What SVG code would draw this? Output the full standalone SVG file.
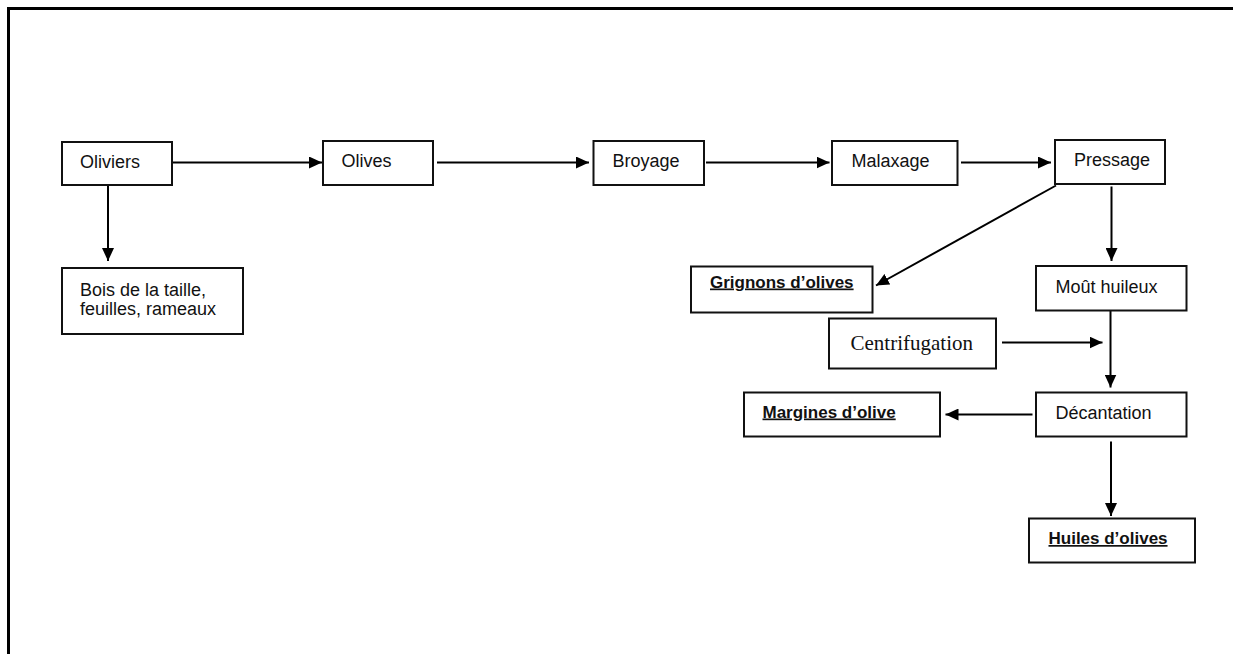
<svg xmlns="http://www.w3.org/2000/svg" width="1233" height="654" viewBox="0 0 1233 654">
<style>
.box{fill:#fff;stroke:#111;stroke-width:2}
.t{font-family:"Liberation Sans",Arial,sans-serif;font-size:18px;fill:#111}
.b{font-family:"Liberation Sans",Arial,sans-serif;font-size:17px;font-weight:bold;fill:#111;text-decoration:underline}
.s{font-family:"Liberation Serif","Times New Roman",serif;font-size:21px;fill:#111}
.c{fill:none;stroke:#000;stroke-width:2;marker-end:url(#ah)}
</style>
<defs>
<marker id="ah" markerUnits="userSpaceOnUse" markerWidth="14" markerHeight="12" refX="13" refY="6" orient="auto">
<path d="M0,0 L13,6 L0,12 z" fill="#000"/>
</marker>
</defs>
<rect width="1233" height="654" fill="#fff"/>
<path d="M8.5,654 V8.5 H1233" fill="none" stroke="#000" stroke-width="3"/>
<g id="connectors">
<line class="c" x1="172" y1="162.5" x2="322" y2="162.5"/>
<line class="c" x1="437" y1="162.5" x2="589" y2="162.5"/>
<line class="c" x1="706" y1="162.5" x2="829.5" y2="162.5"/>
<line class="c" x1="961" y1="162.5" x2="1051" y2="162.5"/>
<line class="c" x1="108" y1="186" x2="108" y2="261"/>
<line class="c" x1="1056" y1="185.5" x2="876" y2="285.5"/>
<line class="c" x1="1111.5" y1="186.5" x2="1111.5" y2="261"/>
<line class="c" x1="1110.5" y1="311" x2="1110.5" y2="387.5"/>
<line class="c" x1="1002" y1="342.5" x2="1102.5" y2="342.5"/>
<line class="c" x1="1032.5" y1="414.5" x2="945.5" y2="414.5"/>
<line class="c" x1="1111" y1="441.5" x2="1111" y2="516"/>
</g>
<g id="oliviers"><rect class="box" x="62" y="142" width="110" height="43"/><text class="t" x="80" y="168">Oliviers</text></g>
<g id="bois"><rect class="box" x="62" y="268" width="181" height="66"/><text class="t" x="80" y="296">Bois de la taille,</text><text class="t" x="80" y="315">feuilles, rameaux</text></g>
<g id="olives"><rect class="box" x="323" y="141" width="110" height="44"/><text class="t" x="341.5" y="167">Olives</text></g>
<g id="broyage"><rect class="box" x="593.5" y="141" width="110.5" height="44"/><text class="t" x="612.5" y="167">Broyage</text></g>
<g id="malaxage"><rect class="box" x="832" y="141" width="125.5" height="44"/><text class="t" x="851.5" y="167">Malaxage</text></g>
<g id="pressage"><rect class="box" x="1055" y="140" width="110" height="44"/><text class="t" x="1074" y="166">Pressage</text></g>
<g id="grignons"><rect class="box" x="691" y="266.5" width="181.5" height="46"/><text class="b" x="710" y="287.5">Grignons d’olives</text></g>
<g id="mout"><rect class="box" x="1036" y="266" width="150.5" height="44.5"/><text class="t" x="1055.5" y="292.5">Moût huileux</text></g>
<g id="centrifugation"><rect class="box" x="829" y="318.5" width="167" height="50"/><text class="s" x="850.5" y="349.5">Centrifugation</text></g>
<g id="margines"><rect class="box" x="744" y="392.5" width="196" height="44"/><text class="b" x="762.5" y="417.5">Margines d’olive</text></g>
<g id="decantation"><rect class="box" x="1036" y="392.5" width="150.5" height="44"/><text class="t" x="1055.5" y="418.5">Décantation</text></g>
<g id="huiles"><rect class="box" x="1029" y="518.5" width="166" height="44"/><text class="b" x="1048.5" y="544">Huiles d’olives</text></g>
</svg>
